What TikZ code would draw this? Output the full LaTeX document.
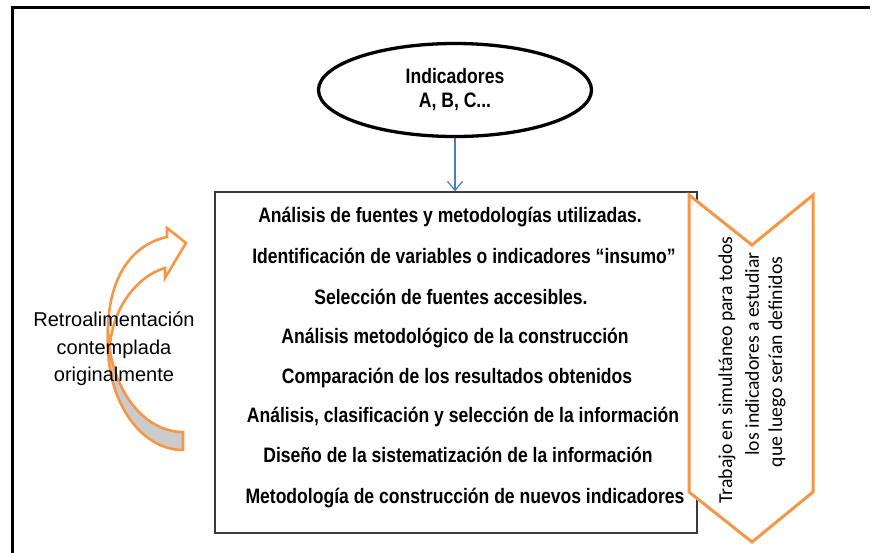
\documentclass[tikz,border=0pt]{standalone}
\usepackage{fontspec}
\setmainfont{Liberation Sans}
\newfontfamily\nbfont[FakeStretch=0.84]{Liberation Sans}
\newfontfamily\calfont{Carlito}
\usetikzlibrary{arrows.meta,shapes.geometric}
\definecolor{orng}{HTML}{F79646}
\definecolor{arrblue}{HTML}{4A7EBB}
\definecolor{boxgray}{HTML}{3A3A3A}
\definecolor{backgray}{HTML}{CBCBCB}
\begin{document}
\begin{tikzpicture}[x=1pt,y=-1pt,
  boxline/.style={font=\nbfont\bfseries\fontsize{20.9}{24}\selectfont, anchor=base, inner sep=0pt},
  chevtext/.style={font=\calfont\fontsize{19.7}{24}\selectfont, rotate=90, inner sep=0pt},
  orangeline/.style={draw=orng, line width=2.6pt, line join=miter}]
\useasboundingbox (0,0) rectangle (875,552);
% outer frame
\draw[line width=3pt] (12,556) -- (12,7.5) -- (870,7.5);
% ellipse
\node[ellipse, draw, line width=3.3pt, minimum width=273pt, minimum height=93pt, inner sep=0pt,
      align=center, font=\nbfont\bfseries\fontsize{20.9}{24}\selectfont] (ind) at (455,90)
      {Indicadores\\A, B, C...};
% main box
\node[draw=boxgray, line width=1.3pt, minimum width=482pt, minimum height=341pt, inner sep=0pt] (box) at (456,362.5) {};
\draw[arrblue, line width=1.2pt, -{Straight Barb[length=9pt,width=15pt]}] (ind.south) -- (ind.south |- box.north);
% box lines
\node[boxline] (l1) at (450,222) {Análisis de fuentes y metodologías utilizadas.};
\node[boxline] (l2) at (464,263) {Identificación de variables o indicadores “insumo”};
\node[boxline] (l3) at (451,304) {Selección de fuentes accesibles.};
\node[boxline] (l4) at (455,343) {Análisis metodológico de la construcción};
\node[boxline] (l5) at (457,383) {Comparación de los resultados obtenidos};
\node[boxline] (l6) at (463,422) {Análisis, clasificación y selección de la información};
\node[boxline] (l7) at (458,462) {Diseño de la sistematización de la información};
\node[boxline] (l8) at (465,503) {Metodología de construcción de nuevos indicadores};
% chevron
\coordinate (c1) at (689,195);
\coordinate (c2) at (752,245);
\coordinate (c3) at (813,195);
\coordinate (c4) at (813,492);
\coordinate (c5) at (752,542);
\coordinate (c6) at (689,492);
\draw[orangeline, line width=3pt, fill=white] (c1) -- (c2) -- (c3) -- (c4) -- (c5) -- (c6) -- cycle;
\node[chevtext] (t1) at (727,370) {Trabajo en simultáneo para todos};
\node[chevtext] (t2) at (752,354) {los indicadores a estudiar};
\node[chevtext] (t3) at (777,362) {que luego serían definidos};
% curved arrow: back face
\draw[orangeline, fill=backgray]
  (108,345) .. controls (108,403) and (141.6,450) .. (183,450)
  -- (183,432) .. controls (141.6,432) and (108,385) .. (108,327) -- cycle;
% curved arrow: front face
\draw[orangeline, fill=white]
  (108,345) -- (108,332) .. controls (108,280) and (130,245) .. (167,237)
  -- (167,228) -- (186,243) -- (165,278) -- (165,268)
  .. controls (137,276) and (113,308) .. (110,345) -- cycle;
% left text
\node[align=center, font=\fontsize{20}{27.5}\selectfont, inner sep=0pt] (fb) at (114,349)
  {Retroalimentación\\contemplada\\originalmente};
\end{tikzpicture}
\end{document}
